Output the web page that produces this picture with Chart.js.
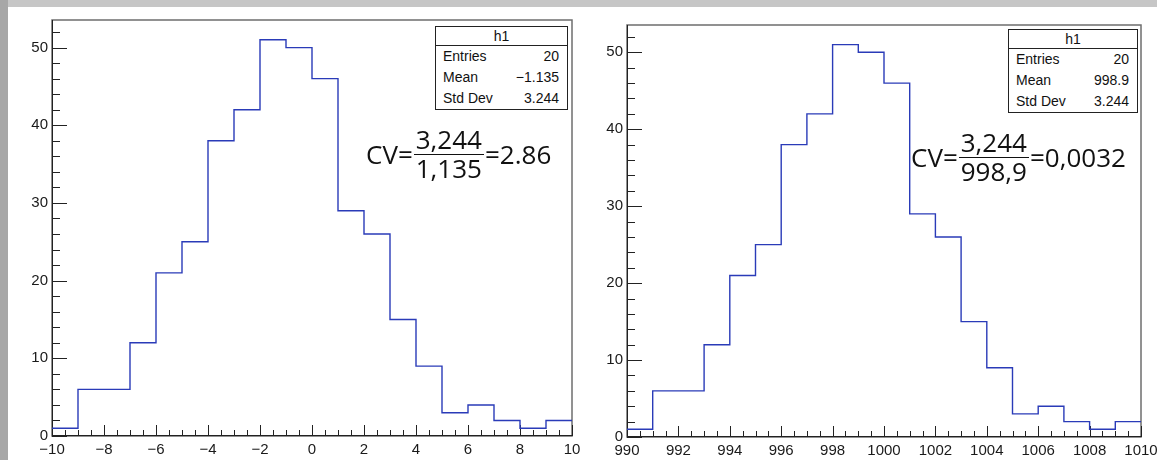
<!DOCTYPE html>
<html lang="en">
<head>
<meta charset="UTF-8">
<title>h1 - coefficient of variation</title>
<script src="https://cdn.jsdelivr.net/npm/chart.js"></script>
<style>
  body { margin: 0; width: 1157px; height: 460px; overflow: hidden; background: #c6c6c6; position: relative;
         font-family: "Liberation Sans", Arial, sans-serif; }
  #strip { position: absolute; left: 0; top: 0; width: 8px; height: 460px; background: #a7a7a7; }
  #paper { position: absolute; left: 8px; top: 7px; right: 0; bottom: 0; background: #fff; }
  canvas { position: absolute; top: 7px; }
  .stats { position: absolute; border: 1px solid #222; background: #fff; font-size: 14px; color: #111; box-sizing: border-box; }
  .stats .title { text-align: center; border-bottom: 1px solid #222; height: 18px; line-height: 18px; }
  .stats .row { display: flex; justify-content: space-between; padding: 0 8px 0 7px; height: 21px; line-height: 21px; }
  .cv { position: absolute; display: flex; align-items: center; font-family: "Open Sans", sans-serif; font-size: 26px; color: #111; white-space: nowrap; }
  .frac { display: inline-flex; flex-direction: column; align-items: center; margin: 0 1px; }
  .frac .num { line-height: 24px; padding: 0 2px 3px; }
  .frac .den { line-height: 24px; border-top: 1.5px solid #111; padding: 1px 2px 0; align-self: stretch; text-align: center; }
</style>
</head>
<body>
<div id="strip"></div>
<div id="paper"></div>
<canvas id="left" width="575" height="453" style="left:8px"></canvas>
<canvas id="right" width="574" height="453" style="left:583px"></canvas>

<div class="stats" id="statsLeft" style="left:435px; top:26px; width:133px; height:84px;"></div>
<div class="stats" id="statsRight" style="left:1008px; top:29px; width:130px; height:84px;"></div>

<div class="cv" style="left:366px; top:127px;">
  <span>CV=</span>
  <span class="frac"><span class="num">3,244</span><span class="den">1,135</span></span>
  <span>=2.86</span>
</div>
<div class="cv" style="left:911px; top:130px;">
  <span>CV=</span>
  <span class="frac"><span class="num">3,244</span><span class="den">998,9</span></span>
  <span>=0,0032</span>
</div>

<script>
  // bin lower edges (width 1) and contents
  const edgesLeft = [-10, -9, -8, -7, -6, -5, -4, -3, -2, -1, 0, 1, 2, 3, 4, 5, 6, 7, 8, 9];
  const edgesRight = [990, 991, 992, 993, 994, 995, 996, 997, 998, 999, 1000, 1001, 1002, 1003, 1004, 1005, 1006, 1007, 1008, 1009];
  const counts = [1, 6, 6, 12, 21, 25, 38, 42, 51, 50, 46, 29, 26, 15, 9, 3, 4, 2, 1, 2];

  // stats box
  const statsTitle = 'h1';
  const statsLabels = ['Entries', 'Mean', 'Std Dev'];
  const statsLeft = ['20', '\u22121.135', '3.244'];
  const statsRight = ['20', '998.9', '3.244'];

  const lineColor = '#2a3bb8';
  const binWidth = 1;

  function fillStats(id, values) {
    const box = document.getElementById(id);
    let html = '<div class="title">' + statsTitle + '</div>';
    statsLabels.forEach((l, i) => {
      html += '<div class="row"><span>' + l + '</span><span>' + values[i] + '</span></div>';
    });
    box.innerHTML = html;
  }
  fillStats('statsLeft', statsLeft);
  fillStats('statsRight', statsRight);

  // ROOT-like frame with inward ticks
  const rootFrame = {
    id: 'rootFrame',
    beforeDatasetsDraw(chart) {
      const { ctx, chartArea: a, scales: { x, y } } = chart;
      ctx.save();
      ctx.strokeStyle = '#6e6e6e';
      ctx.lineWidth = 1.5;
      ctx.strokeRect(a.left, a.top, a.right - a.left, a.bottom - a.top);

      ctx.strokeStyle = '#222';
      ctx.lineWidth = 1;
      ctx.beginPath();
      ctx.moveTo(a.left + 0.5, a.top);
      ctx.lineTo(a.left + 0.5, a.bottom);
      ctx.moveTo(a.left, a.bottom - 0.5);
      ctx.lineTo(a.right, a.bottom - 0.5);
      for (let v = 0; v <= y.max; v += 2) {
        const py = Math.round(y.getPixelForValue(v)) + 0.5;
        ctx.moveTo(a.left, py);
        ctx.lineTo(a.left + (v % 10 === 0 ? 15 : 8), py);
      }
      const n = Math.round((x.max - x.min) / 0.5);
      for (let k = 0; k <= n; k++) {
        const px = Math.round(x.getPixelForValue(x.min + k * 0.5)) + 0.5;
        ctx.moveTo(px, a.bottom);
        ctx.lineTo(px, a.bottom - (k % 4 === 0 ? 11 : 6));
      }
      ctx.stroke();
      ctx.restore();
    }
  };

  function makeChart(id, edges, pad, xAxisH) {
    const pts = edges.map((e, i) => ({ x: e, y: counts[i] }));
    pts.push({ x: edges[edges.length - 1] + binWidth, y: counts[counts.length - 1] });
    const tickFont = { family: 'Liberation Sans', size: 15, lineHeight: 1 };
    const noPad = s => { s.paddingLeft = 0; s.paddingRight = 0; s.paddingTop = 0; s.paddingBottom = 0; };

    return new Chart(document.getElementById(id), {
      type: 'line',
      data: {
        datasets: [{
          data: pts,
          stepped: 'before',   // hold each bin's value until the next edge
          borderColor: lineColor,
          borderWidth: 1.4,
          pointRadius: 0,
          fill: false
        }]
      },
      options: {
        responsive: false,
        animation: false,
        devicePixelRatio: 1,
        layout: { padding: pad },
        plugins: { legend: { display: false }, tooltip: { enabled: false } },
        scales: {
          x: {
            type: 'linear',
            min: edges[0],
            max: edges[edges.length - 1] + binWidth,
            grid: { display: false, drawTicks: false },
            border: { display: false },
            ticks: {
              stepSize: 2, autoSkip: false, maxRotation: 0, padding: 6, color: '#1a1a1a', font: tickFont,
              callback: v => String(v).replace('-', '\u2212')
            },
            afterFit: s => { s.height = xAxisH; noPad(s); }
          },
          y: {
            min: 0,
            max: Math.max(...counts) * 1.05,
            grid: { display: false, drawTicks: false },
            border: { display: false },
            ticks: { stepSize: 10, includeBounds: false, padding: 4, color: '#1a1a1a', font: tickFont },
            afterFit: s => { s.width = 44; noPad(s); }
          }
        }
      },
      plugins: [rootFrame]
    });
  }

  makeChart('left', edgesLeft, { left: 0, top: 13, right: 11, bottom: 0 }, 24);
  makeChart('right', edgesRight, { left: 0, top: 18, right: 16, bottom: 0 }, 23);
</script>
</body>
</html>
